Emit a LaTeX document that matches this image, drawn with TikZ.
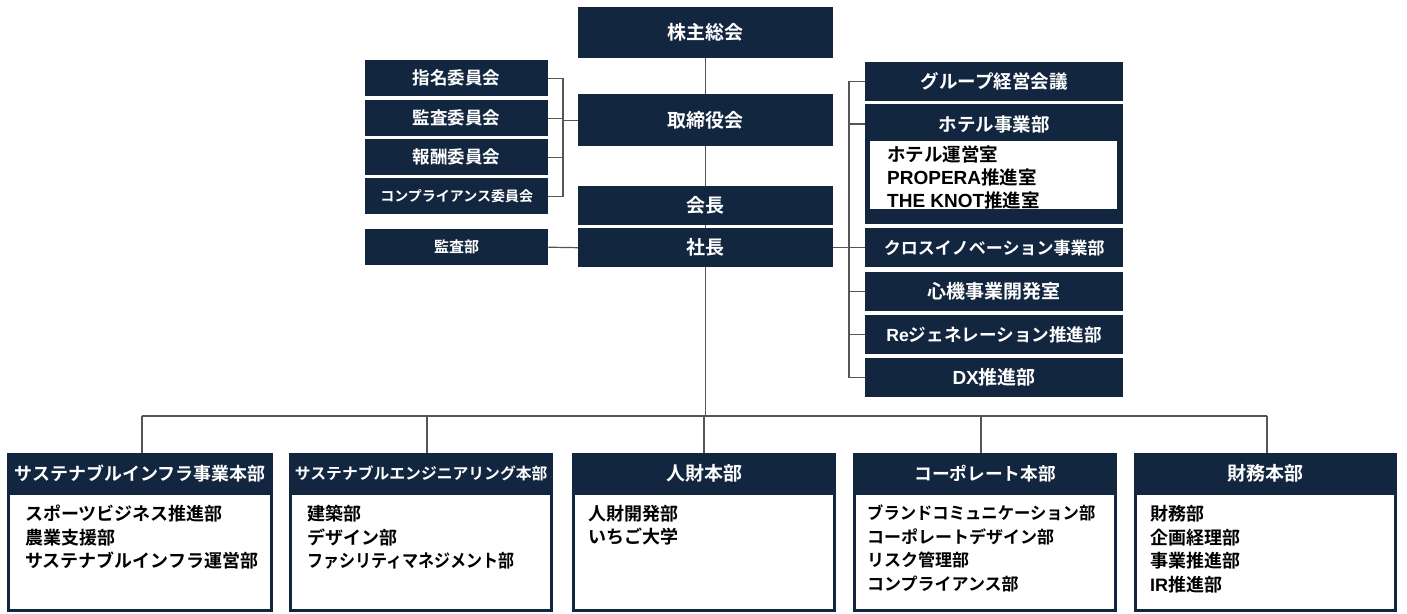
\documentclass[tikz,border=0pt]{standalone}
\usepackage{graphicx}
\usepackage{fontspec}
\setmainfont{Noto Sans CJK JP}[BoldFont={Noto Sans CJK JP Bold}]
\newfontfamily\lat{Liberation Sans}[BoldFont={Liberation Sans Bold}]
\definecolor{navy}{RGB}{19,38,64}
\definecolor{lnc}{RGB}{85,85,85}
\newcommand\fsz[1]{\fontsize{#1}{23.5}\selectfont}
\begin{document}
\begin{tikzpicture}[x=1pt,y=-1pt,
  box/.style={fill=navy,text=white,inner sep=0pt,anchor=north west,font=\bfseries\fsz{17}},
  htext/.style={text=white,inner sep=0pt,font=\bfseries\fsz{18.5}},
  body/.style={draw=navy,line width=3pt,fill=white,anchor=north west,inner sep=0pt},
  list/.style={anchor=north west,align=left,inner sep=0pt,text=black,font=\bfseries\fsz{18}},
  conn/.style={draw=lnc,line width=1.2pt}]
\useasboundingbox[fill=white] (0,0) rectangle (1407,613);

% centre column
\node[box,minimum width=255pt,minimum height=51pt,font=\bfseries\fsz{19}] (gm) at (578,7) {株主総会};
\node[box,minimum width=255pt,minimum height=52pt,font=\bfseries\fsz{19}] (tb) at (578,94) {取締役会};
\node[box,minimum width=255pt,minimum height=39pt,font=\bfseries\fsz{19}] (kc) at (578,186) {会長};
\node[box,minimum width=255pt,minimum height=39pt,font=\bfseries\fsz{19}] (sc) at (578,228) {社長};

% committees
\node[box,minimum width=183pt,minimum height=36pt,font=\bfseries\fsz{17.5}] (c1) at (365,60) {指名委員会};
\node[box,minimum width=183pt,minimum height=36pt,font=\bfseries\fsz{17.5}] (c2) at (365,100) {監査委員会};
\node[box,minimum width=183pt,minimum height=36pt,font=\bfseries\fsz{17.5}] (c3) at (365,139) {報酬委員会};
\node[box,minimum width=183pt,minimum height=36pt,font=\bfseries\fsz{14}] (c4) at (365,178) {コンプライアンス委員会};
\node[box,minimum width=183pt,minimum height=36pt,font=\bfseries\fsz{15}] (ka) at (365,229) {監査部};

% right column
\node[box,minimum width=258pt,minimum height=39pt,font=\bfseries\fsz{18.5}] (r1) at (865,62) {グループ経営会議};
\node[box,minimum width=258pt,minimum height=120pt] (ho) at (865,104) {};
\node[htext] (hoh) at (994,124) {ホテル事業部};
\node[fill=white,anchor=north west,minimum width=247pt,minimum height=68pt,inner sep=0pt] (hob) at (870,141) {};
\node[list,font=\bfseries\fontsize{18.5}{23}\selectfont] (hol) at (887,146) {ホテル運営室\\{\lat\fontsize{19}{23}\selectfont PROPERA}推進室\\{\lat\fontsize{19}{23}\selectfont THE KNOT}推進室};
\node[box,minimum width=258pt,minimum height=39pt] (r3) at (865,228) {クロスイノベーション事業部};
\node[box,minimum width=258pt,minimum height=39pt,font=\bfseries\fsz{19}] (r4) at (865,272) {心機事業開発室};
\node[box,minimum width=258pt,minimum height=39pt,font=\bfseries\fsz{17.6}] (r5) at (865,315) {{\lat Re}ジェネレーション推進部};
\node[box,minimum width=258pt,minimum height=39pt,font=\bfseries\fsz{19}] (r6) at (865,358) {{\lat DX}推進部};

% bottom divisions
\node[box,minimum width=266pt,minimum height=40pt,font=\bfseries\fsz{18}] (h1) at (7,453) {サステナブルインフラ事業本部};
\node[body,minimum width=263pt,minimum height=117pt] (b1) at (7,492) {};
\node[list] (l1) at (25,505) {スポーツビジネス推進部\\農業支援部\\サステナブルインフラ運営部};

\node[box,minimum width=264pt,minimum height=40pt,font=\bfseries\fsz{15.8}] (h2) at (289,453) {サステナブルエンジニアリング本部};
\node[body,minimum width=261pt,minimum height=117pt] (b2) at (289,492) {};
\node[list] (l2) at (307,505) {建築部\\デザイン部\\\scalebox{0.89}[1]{ファシリティマネジメント部}};

\node[box,minimum width=264pt,minimum height=40pt,font=\bfseries\fsz{19}] (h3) at (572,453) {人財本部};
\node[body,minimum width=261pt,minimum height=117pt] (b3) at (572,492) {};
\node[list] (l3) at (588,505) {人財開発部\\いちご大学};

\node[box,minimum width=264pt,minimum height=40pt,font=\bfseries\fsz{17.7}] (h4) at (853,453) {コーポレート本部};
\node[body,minimum width=261pt,minimum height=117pt] (b4) at (853,492) {};
\node[list,font=\bfseries\fsz{17}] (l4) at (867,505) {\scalebox{0.96}[1]{ブランドコミュニケーション部}\\コーポレートデザイン部\\リスク管理部\\コンプライアンス部};

\node[box,minimum width=263pt,minimum height=40pt,font=\bfseries\fsz{19}] (h5) at (1134,453) {財務本部};
\node[body,minimum width=260pt,minimum height=117pt] (b5) at (1134,492) {};
\node[list] (l5) at (1150,505) {財務部\\企画経理部\\事業推進部\\{\lat IR}推進部};

% connectors: centre trunk
\draw[conn] (gm.south) -- (tb.north);
\draw[conn] (tb.south) -- (kc.north);
\draw[conn] (kc.south) -- (sc.north);
\coordinate (d1) at (142,416);
\coordinate (d2) at (427,416);
\coordinate (d3) at (704,416);
\coordinate (d4) at (981,416);
\coordinate (d5) at (1267,416);
\draw[conn] (sc.south) -- (sc.south |- d3);
\draw[conn] (d1) -- (d5);
\draw[conn] (d1) -- (d1 |- h1.north);
\draw[conn] (d2) -- (d2 |- h2.north);
\draw[conn] (d3) -- (d3 |- h3.north);
\draw[conn] (d4) -- (d4 |- h4.north);
\draw[conn] (d5) -- (d5 |- h5.north);

% committees bracket
\coordinate (lb) at (563,118);
\draw[conn] (c1.east) -- (c1.east -| lb) -- (c4.east -| lb) -- (c4.east);
\draw[conn] (c2.east) -- (c2.east -| lb);
\draw[conn] (c3.east) -- (c3.east -| lb);
\draw[conn] (lb |- tb.west) -- (tb.west);
\draw[conn] (ka.east) -- (sc.west);

% right bracket
\coordinate (rb) at (849,248);
\draw[conn] (r1.west) -- (r1.west -| rb) -- (r6.west -| rb) -- (r6.west);
\draw[conn] (ho.west |- hoh) -- (rb |- hoh);
\draw[conn] (sc.east) -- (r3.west);
\draw[conn] (r4.west) -- (r4.west -| rb);
\draw[conn] (r5.west) -- (r5.west -| rb);
\end{tikzpicture}
\end{document}
